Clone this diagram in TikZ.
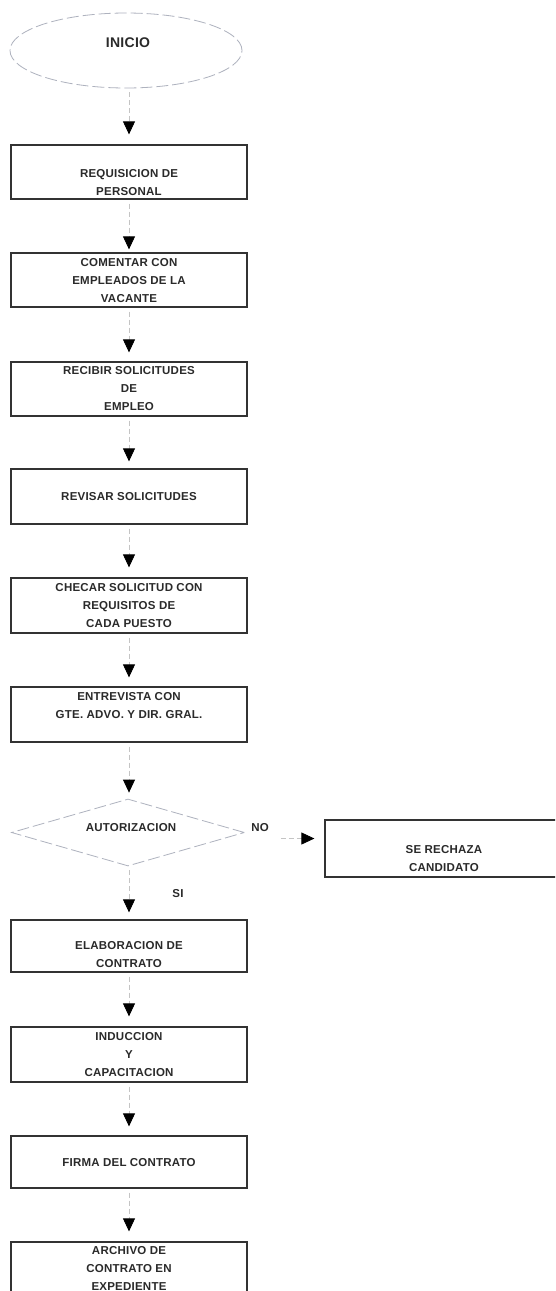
\documentclass[tikz,border=0pt]{standalone}
\usepackage{fontspec}
\setmainfont{Liberation Sans}[LetterSpace=2]
\usetikzlibrary{shapes.geometric,arrows.meta}
\definecolor{boxc}{HTML}{333333}
\definecolor{linec}{HTML}{C4C4C4}
\definecolor{txtc}{HTML}{2A2A2A}
\definecolor{faintc}{HTML}{AEB2BE}
\begin{document}
\begin{tikzpicture}[x=1pt,y=1pt,
  box/.style={draw=boxc, line width=1.25pt, minimum width=236pt, minimum height=54pt, inner sep=0pt},
  lbl/.style={font=\bfseries\fontsize{11.5}{18}\selectfont, text=txtc, align=center, inner sep=0pt},
  faint/.style={draw=faintc, line width=0.8pt, dash pattern=on 12pt off 4pt, inner sep=0pt},
  flow/.style={draw=linec, line width=0.8pt, dash pattern=on 5pt off 3pt, -{Triangle[width=12pt,length=13pt,color=black]}},
]
\useasboundingbox (0,0) rectangle (555,-1291);
\fill[white] (0,0) rectangle (555,-1291);
\clip (0,0) rectangle (555,-1291);

% start
\node[faint, ellipse, minimum width=232pt, minimum height=75pt] (e) at (126,-50.5) {};
\node[lbl, font=\bfseries\fontsize{14}{18}\selectfont] (te) at (128,-43) {INICIO};

% boxes
\node[box] (b1) at (129,-172) {};
\node[lbl] (t1) at (129,-182.5) {REQUISICION DE\\PERSONAL};
\node[box] (b2) at (129,-280) {};
\node[lbl] (t2) at (129,-281) {COMENTAR CON\\EMPLEADOS DE LA\\VACANTE};
\node[box] (b3) at (129,-389) {};
\node[lbl] (t3) at (129,-389) {RECIBIR SOLICITUDES\\DE\\EMPLEO};
\node[box, minimum height=55pt] (b4) at (129,-496.5) {};
\node[lbl] (t4) at (129,-497) {REVISAR SOLICITUDES};
\node[box, minimum height=55pt] (b5) at (129,-605.5) {};
\node[lbl] (t5) at (129,-606) {CHECAR SOLICITUD CON\\REQUISITOS DE\\CADA PUESTO};
\node[box, minimum height=55pt] (b6) at (129,-714.5) {};
\node[lbl] (t6) at (129,-706) {ENTREVISTA CON\\GTE. ADVO. Y DIR. GRAL.};

% decision
\node[faint, diamond, minimum width=233pt, minimum height=67pt] (d) at (128,-832.5) {};
\node[lbl] (td) at (131,-828) {AUTORIZACION};
\node[lbl] (tno) at (260,-828) {NO};
\node[lbl] (tsi) at (178,-894) {SI};

\node[box, minimum width=240pt, minimum height=57pt] (rej) at (445,-848.5) {};
\node[lbl] (trej) at (444,-859) {SE RECHAZA\\CANDIDATO};

\node[box, minimum height=52pt] (b7) at (129,-946) {};
\node[lbl] (t7) at (129,-955) {ELABORACION DE\\CONTRATO};
\node[box, minimum height=55pt] (b8) at (129,-1054.5) {};
\node[lbl] (t8) at (129,-1055) {INDUCCION\\Y\\CAPACITACION};
\node[box, minimum height=52pt] (b9) at (129,-1162) {};
\node[lbl] (t9) at (129,-1163) {FIRMA DEL CONTRATO};
\node[box] (b10) at (129,-1269) {};
\node[lbl] (t10) at (129,-1268) {ARCHIVO DE\\CONTRATO EN\\EXPEDIENTE};

% connectors
\draw[flow, shorten <=4pt, shorten >=10pt] (b1.north |- e.south) -- (b1.north);
\draw[flow, shorten <=4pt, shorten >=3pt] (b1.south) -- (b2.north);
\draw[flow, shorten <=4pt, shorten >=9pt] (b2.south) -- (b3.north);
\draw[flow, shorten <=4pt, shorten >=7pt] (b3.south) -- (b4.north);
\draw[flow, shorten <=4pt, shorten >=10pt] (b4.south) -- (b5.north);
\draw[flow, shorten <=4pt, shorten >=9pt] (b5.south) -- (b6.north);
\draw[flow, shorten <=4pt, shorten >=6pt] (b6.south) -- (b6.south |- d.north);
\draw[flow, shorten <=4pt, shorten >=7pt] (b7.north |- d.south) -- (b7.north);
\draw[flow, shorten <=4pt, shorten >=10pt] (b7.south) -- (b8.north);
\draw[flow, shorten <=4pt, shorten >=9pt] (b8.south) -- (b9.north);
\draw[flow, shorten <=4pt, shorten >=10pt] (b9.south) -- (b10.north);
\draw[flow, shorten <=36pt, shorten >=10pt] ([yshift=-6pt]d.east) -- ([yshift=-6pt]d.east -| rej.west);
\end{tikzpicture}
\end{document}
